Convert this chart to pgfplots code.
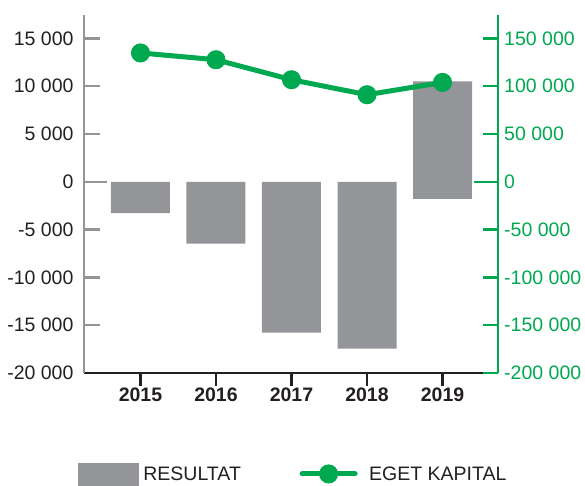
\documentclass[border=0pt]{standalone}
\usepackage{pgfplots}
\pgfplotsset{compat=1.18}
\usepackage{fontspec}
\setmainfont{Liberation Sans}
\definecolor{barGray}{HTML}{939598}
\definecolor{kgreen}{HTML}{00A94F}
\definecolor{txt}{HTML}{231F20}
\pgfplotsset{
  mylinelegend/.style={legend image code/.code={\draw[line cap=round, mark repeat=2, mark phase=2, ##1] plot coordinates {(0pt,0pt) (26.5pt,0pt) (53pt,0pt)};}},
  myboxlegend/.style={legend image code/.code={\fill[barGray] (0pt,-11pt) rectangle (60pt,11pt);}},
}
\begin{document}
\begin{tikzpicture}
\path[use as bounding box] (-84pt,-112pt) rectangle (501pt,373pt);
\begin{axis}[
  at={(0pt,0pt)}, anchor=south west,
  scale only axis, width=414pt, height=358pt,
  xmin=-0.748, xmax=4.735,
  ymin=-20000, ymax=17450,
  scaled y ticks=false,
  axis x line*=bottom, axis y line*=left,
  x axis line style={draw=txt, line width=2.6pt, -},
  y axis line style={draw=barGray, line width=2.5pt, -},
  xtick={0,...,4}, xticklabels={2015,2016,2017,2018,2019},
  ytick={-20000,-15000,-10000,-5000,5000,10000,15000},
  yticklabels={-20 000,-15 000,-10 000,-5 000,5 000,10 000,15 000},
  extra y ticks={0}, extra y tick labels={0},
  extra y tick style={major tick length=23pt},
  tick align=inside,
  major tick length=16pt,
  xtick style={draw=txt, line width=2.5pt, /pgfplots/major tick length=13pt},
  ytick style={draw=barGray, line width=2.5pt},
  xticklabel style={font=\fontsize{19.5}{22}\selectfont\bfseries, text=txt, yshift=5pt},
  yticklabel style={font=\fontsize{19.5}{22}\selectfont, text=txt, xshift=-7pt},
  ybar, bar width=59pt,
  clip=false,
]
\addplot[fill=barGray, draw=none, bar shift=0pt] coordinates {(0,-3280) (1,-6460) (2,-15780) (3,-17460) (4,10500)};
\addplot[fill=barGray, draw=none, bar shift=0pt] coordinates {(4,-1850)};
\end{axis}
\begin{axis}[
  at={(0pt,0pt)}, anchor=south west,
  scale only axis, width=414pt, height=358pt,
  xmin=-0.748, xmax=4.735,
  ymin=-200000, ymax=174500,
  scaled y ticks=false,
  axis x line=none, axis y line*=right,
  y axis line style={draw=kgreen, line width=2.8pt, -},
  ytick={-200000,-150000,-100000,-50000,50000,100000,150000},
  yticklabels={-200 000,-150 000,-100 000,-50 000,50 000,100 000,150 000},
  extra y ticks={0}, extra y tick labels={0},
  extra y tick style={major tick length=24pt},
  tick align=inside,
  major tick length=15pt,
  ytick style={draw=kgreen, line width=2.5pt},
  yticklabel style={font=\fontsize{19.5}{22}\selectfont, text=kgreen, xshift=2.7pt},
  clip=false,
  legend columns=2,
  legend cell align=left,
  legend style={at={(axis description cs:-0.0145,-0.282)}, anchor=west,
    draw=none, fill=none, inner sep=0pt, outer sep=0pt,
    nodes={inner sep=0pt, font=\fontsize{19.5}{23}\selectfont, text=txt},
    /tikz/column 1/.style={column sep=5pt},
    /tikz/column 2/.style={column sep=58.7pt},
    /tikz/column 3/.style={column sep=11.5pt}},
]
\addlegendimage{myboxlegend}
\addlegendentry{RESULTAT}
\addplot[kgreen, line width=5pt, mark=*, mark size=7pt,
  mark options={draw=none, fill=kgreen}, mylinelegend]
  coordinates {(0,134800) (1,127700) (2,106800) (3,91100) (4,104000)};
\addlegendentry{EGET KAPITAL}
\end{axis}
\end{tikzpicture}
\end{document}
